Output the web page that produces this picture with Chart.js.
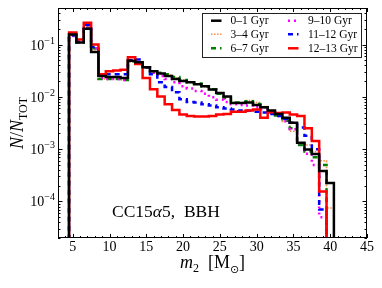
<!DOCTYPE html>
<html>
<head>
<meta charset="utf-8">
<script src="https://cdn.jsdelivr.net/npm/chart.js@4/dist/chart.umd.min.js"></script>
<style>
  html, body { margin: 0; padding: 0; background: #fff; }
  #wrap { width: 382px; height: 288px; }
</style>
</head>
<body>
<div id="wrap"><canvas id="chart" width="382" height="288"></canvas></div>
<script>
// bin centres (M_sun), bins are 1 M_sun wide
const m2 = [5,6,7,8,9,10,11,12,13,14,15,16,17,18,19,20,21,22,23,24,25,26,27,28,29,30,31,32,33,34,35,36,37,38,39,40];

const age0to1 = [0.155,0.11,0.2,0.072,0.025,0.024,0.024,0.023,0.049,0.046,0.037,0.031,0.028,0.025,0.022,0.02,0.019,0.0175,0.016,0.0138,0.0118,0.0102,0.0076,0.0076,0.0078,0.007,0.0063,0.0055,0.0047,0.004,0.0032,0.00133,0.00099,0.00081,0.00038,0.000226];
const age3to4 = [0.15,0.11,0.21,0.08,0.022,0.022,0.022,0.021,0.047,0.045,0.037,0.031,0.028,0.026,0.023,0.021,0.019,0.0175,0.0158,0.0138,0.0118,0.01,0.0078,0.0078,0.0085,0.0078,0.0065,0.0055,0.0045,0.0034,0.0022,0.0013,0.0012,0.0009,0.0006,0.000075];
const age6to7 = [0.15,0.11,0.21,0.085,0.022,0.022,0.022,0.021,0.048,0.045,0.037,0.031,0.029,0.027,0.024,0.021,0.019,0.018,0.016,0.014,0.0115,0.0095,0.0078,0.0078,0.0082,0.0073,0.0063,0.0053,0.0044,0.0035,0.0025,0.0012,0.0009,0.0007,0.0005,null];
const age9to10 = [0.145,0.11,0.22,0.085,0.023,0.022,0.022,0.021,0.048,0.045,0.036,0.029,0.025,0.022,0.019,0.016,0.0145,0.013,0.0115,0.0098,0.0088,0.008,0.0072,0.007,0.0068,0.0063,0.0058,0.0051,0.0043,0.0034,0.0024,0.0013,0.00082,0.0005,0.00005,null];
const age11to12 = [0.15,0.115,0.24,0.09,0.026,0.027,0.027,0.027,0.05,0.052,0.037,0.027,0.019,0.0155,0.0122,0.009,0.008,0.0078,0.0072,0.0068,0.0063,0.006,0.0057,0.0055,0.0054,0.0052,0.005,0.0047,0.0043,0.0038,0.0032,0.0026,0.0018,0.001,0.00007,null];
const age12to13 = [0.17,0.125,0.26,0.1,0.027,0.031,0.032,0.033,0.057,0.0425,0.023,0.014,0.0102,0.0072,0.0056,0.0046,0.0043,0.0042,0.0042,0.0043,0.0046,0.0047,0.0052,0.0052,0.0055,0.0057,0.004,0.0051,0.0049,0.005,0.0046,0.0043,0.0025,0.00143,0.000155,null];

const xTicks = [5,10,15,20,25,30,35,40,45];
const yTicks = [1e-1,1e-2,1e-3,1e-4];
const yTickLabels = ['\u22121','\u22122','\u22123','\u22124'];

const FLOOR = 1e-8;   // below the axis, so the histogram edges run down to the frame

// turn bin values into step points at the left bin edges
function steps(vals) {
    const pts = [{ x: m2[0] - 0.5, y: FLOOR }];
    let last = 0;
    vals.forEach((v, i) => {
        if (v == null) return;
        pts.push({ x: m2[i] - 0.5, y: v });
        last = i;
    });
    pts.push({ x: m2[last] + 0.5, y: FLOOR });
    return pts;
}

const series = [
    { label: '0\u20131 Gyr',   data: age0to1,   color: '#000000', width: 2.5, dash: [],     order: 0 },
    { label: '3\u20134 Gyr',   data: age3to4,   color: '#ff8a3d', width: 1.6, dash: [1.5, 1.5], order: 5 },
    { label: '6\u20137 Gyr',   data: age6to7,   color: '#008000', width: 2.5, dash: [5, 4], order: 4 },
    { label: '9\u201310 Gyr',  data: age9to10,  color: '#ff00ff', width: 2.5, dash: [2, 4], order: 3 },
    { label: '11\u201312 Gyr', data: age11to12, color: '#0000ff', width: 2.5, dash: [5, 4], order: 2 },
    { label: '12\u201313 Gyr', data: age12to13, color: '#ff0000', width: 2.5, dash: [],     order: 1 }
];

const SERIF = '"Liberation Serif", "DejaVu Serif", serif';

const decorations = {
    id: 'decorations',
    afterDraw(chart) {
        const ctx = chart.ctx;
        const a = chart.chartArea;
        const xs = chart.scales.x, ys = chart.scales.y;
        ctx.save();

        // frame
        ctx.strokeStyle = '#000';
        ctx.lineWidth = 1;
        ctx.strokeRect(a.left + 0.5, a.top + 0.5, a.right - a.left - 1, a.bottom - a.top - 1);

        // x ticks, inward on bottom and top
        ctx.beginPath();
        for (let v = 3; v <= 45; v++) {
            const px = Math.round(xs.getPixelForValue(v)) + 0.5;
            const len = v % 5 === 0 ? 4 : 2;
            ctx.moveTo(px, a.bottom); ctx.lineTo(px, a.bottom - len);
            ctx.moveTo(px, a.top); ctx.lineTo(px, a.top + len);
        }
        // y ticks (log minor + major), inward on left and right
        for (let e = -5; e <= -1; e++) {
            for (let k = 1; k <= 9; k++) {
                const v = k * Math.pow(10, e);
                if (v < ys.min || v > ys.max) continue;
                const py = Math.round(ys.getPixelForValue(v)) + 0.5;
                const len = k === 1 ? 4.5 : 2.5;
                ctx.moveTo(a.left, py); ctx.lineTo(a.left + len, py);
                ctx.moveTo(a.right, py); ctx.lineTo(a.right - len, py);
            }
        }
        ctx.stroke();

        ctx.fillStyle = '#000';
        // x tick labels
        ctx.font = '14px ' + SERIF;
        ctx.textAlign = 'center';
        ctx.textBaseline = 'middle';
        xTicks.forEach(v => ctx.fillText(String(v), xs.getPixelForValue(v), a.bottom + 9));

        // y tick labels: 10 with superscript exponent
        yTicks.forEach((v, i) => {
            const py = ys.getPixelForValue(v);
            ctx.font = '10px ' + SERIF;
            const ew = ctx.measureText(yTickLabels[i]).width;
            ctx.textAlign = 'left';
            ctx.textBaseline = 'alphabetic';
            const right = a.left - 3;
            ctx.fillText(yTickLabels[i], right - ew, py - 1);
            ctx.font = '14px ' + SERIF;
            const bw = ctx.measureText('10').width;
            ctx.fillText('10', right - ew - bw, py + 5);
        });

        // x axis title: m_2 [M_sun]
        {
            const parts = [
                { t: 'm', f: 'italic 18px ' + SERIF, dy: 0 },
                { t: '2', f: '12px ' + SERIF, dy: 4 },
                { t: '  [M', f: '18px ' + SERIF, dy: 0 },
                { t: '\u2299', f: '11px "DejaVu Sans", sans-serif', dy: 5 },
                { t: ']', f: '18px ' + SERIF, dy: 0 }
            ];
            let total = 0;
            parts.forEach(p => { ctx.font = p.f; p.w = ctx.measureText(p.t).width; total += p.w; });
            let x = (a.left + a.right) / 2 - total / 2;
            const base = a.bottom + 30;
            ctx.textAlign = 'left';
            ctx.textBaseline = 'alphabetic';
            parts.forEach(p => { ctx.font = p.f; ctx.fillText(p.t, x, base + p.dy); x += p.w; });
        }

        // y axis title: N / N_TOT
        {
            const parts = [
                { t: 'N', f: 'italic 18px ' + SERIF, dy: 0 },
                { t: '/', f: '18px ' + SERIF, dy: 0 },
                { t: 'N', f: 'italic 18px ' + SERIF, dy: 0 },
                { t: 'TOT', f: '12px ' + SERIF, dy: 4 }
            ];
            let total = 0;
            parts.forEach(p => { ctx.font = p.f; p.w = ctx.measureText(p.t).width; total += p.w; });
            ctx.save();
            ctx.translate(23, (a.top + a.bottom) / 2);
            ctx.rotate(-Math.PI / 2);
            let x = -total / 2;
            ctx.textAlign = 'left';
            ctx.textBaseline = 'alphabetic';
            parts.forEach(p => { ctx.font = p.f; ctx.fillText(p.t, x, p.dy); x += p.w; });
            ctx.restore();
        }

        // annotation
        {
            const parts = [
                { t: 'CC15', f: '17.5px ' + SERIF },
                { t: '\u03b1', f: 'italic 17.5px ' + SERIF },
                { t: '5,  BBH', f: '17.5px ' + SERIF }
            ];
            let x = 112;
            ctx.textAlign = 'left';
            ctx.textBaseline = 'alphabetic';
            parts.forEach(p => { ctx.font = p.f; ctx.fillText(p.t, x, 217); x += ctx.measureText(p.t).width; });
        }

        // legend, two columns
        {
            const bx = 202.5, by = 13.5, bw = 159, bh = 44;
            ctx.fillStyle = '#fff';
            ctx.fillRect(bx, by, bw, bh);
            ctx.strokeStyle = '#222';
            ctx.lineWidth = 1;
            ctx.strokeRect(bx, by, bw, bh);
            const rowY = [20.7, 34.3, 48.3];
            const colX = [211, 288];
            const textX = [230.5, 308];
            series.forEach((s, i) => {
                const col = Math.floor(i / 3), row = i % 3;
                const lx = colX[col], ly = rowY[row];
                ctx.beginPath();
                ctx.strokeStyle = s.color;
                ctx.lineWidth = s.width;
                ctx.setLineDash(s.dash);
                ctx.moveTo(lx, ly); ctx.lineTo(lx + 10.5, ly);
                ctx.stroke();
                ctx.setLineDash([]);
                ctx.fillStyle = '#000';
                ctx.font = '11.5px ' + SERIF;
                ctx.textAlign = 'left';
                ctx.textBaseline = 'middle';
                ctx.fillText(s.label, textX[col], ly + 0.5);
            });
        }
        ctx.restore();
    }
};

new Chart(document.getElementById('chart').getContext('2d'), {
    type: 'line',
    data: {
        datasets: series.map(s => ({
            label: s.label,
            data: steps(s.data),
            borderColor: s.color,
            borderWidth: s.width,
            borderDash: s.dash,
            stepped: 'before',
            pointRadius: 0,
            fill: false,
            order: s.order
        }))
    },
    options: {
        responsive: false,
        animation: false,
        devicePixelRatio: 1,
        layout: { padding: { left: 58, top: 8, right: 15, bottom: 50 } },
        plugins: { legend: { display: false }, tooltip: { enabled: false } },
        scales: {
            x: { type: 'linear', min: 3, max: 45, display: false },
            y: { type: 'logarithmic', min: 2e-5, max: 0.5, display: false }
        }
    },
    plugins: [decorations]
});
</script>
</body>
</html>
